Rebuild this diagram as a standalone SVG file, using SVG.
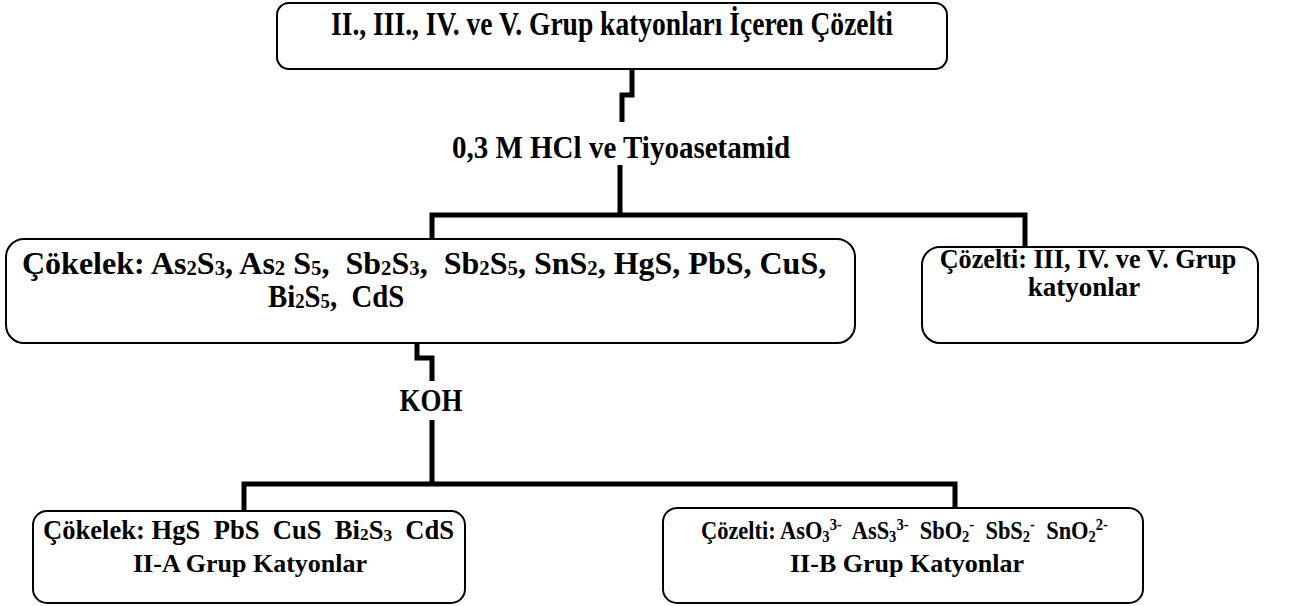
<svg xmlns="http://www.w3.org/2000/svg" width="1298" height="606" viewBox="0 0 1298 606">
  <style>
    .box { fill: #ffffff; stroke: #000000; stroke-width: 2; }
    .wire { fill: none; stroke: #000000; stroke-width: 5; stroke-linejoin: miter; stroke-linecap: butt; }
    text { font-family: "Liberation Serif", "Times New Roman", serif; font-weight: bold; fill: #000000; white-space: pre; }
    .head { font-size: 32px; }
    .big { font-size: 32px; }
    .lbl { font-size: 31px; }
    .mid { font-size: 27px; }
    .small { font-size: 26px; }
    .idx { font-size: 65%; }
    .c { text-anchor: middle; }
  </style>
  <rect width="1298" height="606" fill="#ffffff"/>

  <!-- connectors -->
  <g id="connectors">
    <polyline class="wire" points="632,70 632,95 622,95 622,122"/>
    <polyline class="wire" points="620,165 620,215"/>
    <polyline class="wire" points="432,239 432,215 1025,215 1025,247"/>
    <polyline class="wire" points="417,343 417,358 432,358 432,381"/>
    <polyline class="wire" points="432,420 432,484"/>
    <polyline class="wire" points="244,510 244,484 955,484 955,508"/>
  </g>

  <!-- reagent labels (narrowed with a horizontal scale) -->
  <g id="label-hcl" transform="translate(621,158) scale(0.936,1.05)">
    <text class="lbl c" x="0" y="0">0,3 M HCl ve Tiyoasetamid</text>
  </g>
  <g id="label-koh" transform="translate(431,411) scale(0.87,1.05)">
    <text class="lbl c" x="0" y="0">KOH</text>
  </g>

  <!-- starting solution -->
  <g id="node-start">
    <rect class="box" x="277" y="3" width="670" height="66" rx="12"/>
    <g transform="translate(612,35) scale(0.86,1.05)">
      <text class="head c" x="0" y="0">II., III., IV. ve V. Grup katyonları İçeren Çözelti</text>
    </g>
  </g>

  <!-- group II precipitate -->
  <g id="node-precipitate">
    <rect class="box" x="6" y="239" width="849" height="104" rx="18"/>
    <text class="big" x="22" y="274">Çökelek: As<tspan class="idx" dy="1">2</tspan><tspan dy="-1">S</tspan><tspan class="idx" dy="1">3</tspan><tspan dy="-1">, As</tspan><tspan class="idx" dy="1">2</tspan><tspan dy="-1"> S</tspan><tspan class="idx" dy="1">5</tspan><tspan dy="-1">,  Sb</tspan><tspan class="idx" dy="1">2</tspan><tspan dy="-1">S</tspan><tspan class="idx" dy="1">3</tspan><tspan dy="-1">,  Sb</tspan><tspan class="idx" dy="1">2</tspan><tspan dy="-1">S</tspan><tspan class="idx" dy="1">5</tspan><tspan dy="-1">, SnS</tspan><tspan class="idx" dy="1">2</tspan><tspan dy="-1">, HgS, PbS, CuS,</tspan></text>
    <g transform="translate(268,307) scale(0.9,1)">
      <text class="big" x="0" y="0">Bi<tspan class="idx" dy="1">2</tspan><tspan dy="-1">S</tspan><tspan class="idx" dy="1">5</tspan><tspan dy="-1">,  CdS</tspan></text>
    </g>
  </g>

  <!-- remaining solution -->
  <g id="node-solution">
    <rect class="box" x="922" y="247" width="336" height="96" rx="18"/>
    <g transform="translate(1088,268) scale(0.97,1)">
      <text class="mid c" x="0" y="0">Çözelti: III, IV. ve V. Grup</text>
    </g>
    <text class="mid c" x="1084" y="296">katyonlar</text>
  </g>

  <!-- group II-A -->
  <g id="node-2a">
    <rect class="box" x="33" y="511" width="432" height="92" rx="14"/>
    <text class="small" x="43" y="539" style="font-size:26.6px">Çökelek: HgS  PbS  CuS  Bi<tspan class="idx" dy="1">2</tspan><tspan dy="-1">S</tspan><tspan class="idx" dy="2">3</tspan><tspan dy="-2">  CdS</tspan></text>
    <text class="small c" x="250" y="572">II-A Grup Katyonlar</text>
  </g>

  <!-- group II-B -->
  <g id="node-2b">
    <rect class="box" x="663" y="508" width="480" height="95" rx="14"/>
    <g transform="translate(701,539) scale(0.862,1)">
      <text class="small" x="0" y="0">Çözelti: AsO<tspan class="idx" dy="3">3</tspan><tspan class="idx" dy="-12">3-</tspan><tspan dy="9">  AsS</tspan><tspan class="idx" dy="3">3</tspan><tspan class="idx" dy="-12">3-</tspan><tspan dy="9">  SbO</tspan><tspan class="idx" dy="3">2</tspan><tspan class="idx" dy="-12">-</tspan><tspan dy="9">  SbS</tspan><tspan class="idx" dy="3">2</tspan><tspan class="idx" dy="-12">-</tspan><tspan dy="9">  SnO</tspan><tspan class="idx" dy="3">2</tspan><tspan class="idx" dy="-12">2-</tspan></text>
    </g>
    <text class="small c" x="907" y="572">II-B Grup Katyonlar</text>
  </g>
</svg>
